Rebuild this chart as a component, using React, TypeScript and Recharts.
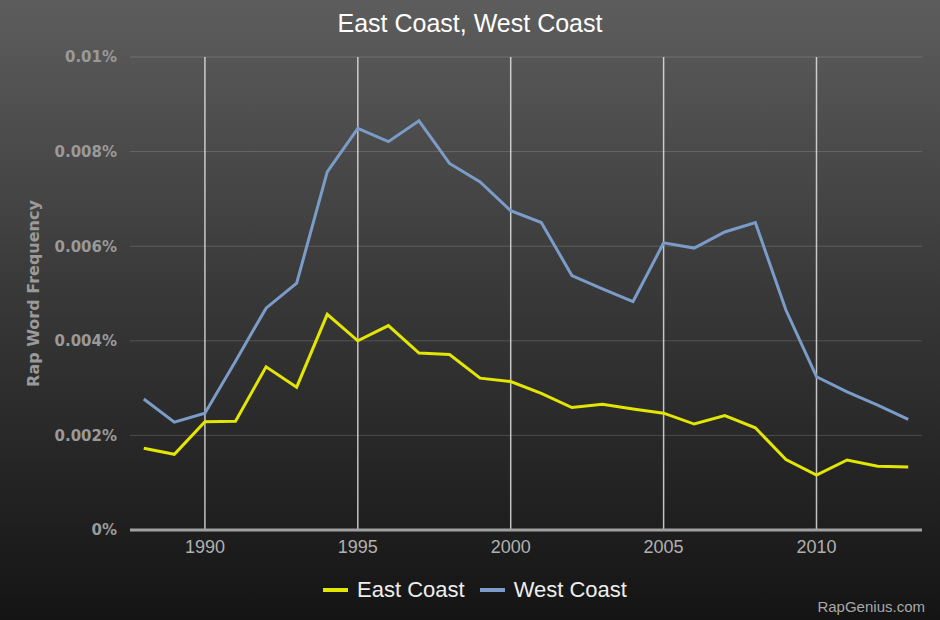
import React from "react";
import { LineChart, Line, XAxis, YAxis, CartesianGrid, Legend, ReferenceLine } from "recharts";

const years = [1988, 1989, 1990, 1991, 1992, 1993, 1994, 1995, 1996, 1997, 1998, 1999, 2000, 2001, 2002, 2003, 2004, 2005, 2006, 2007, 2008, 2009, 2010, 2011, 2012, 2013];
const eastCoast = [0.00173, 0.0016, 0.00229, 0.0023, 0.00345, 0.00302, 0.00456, 0.004, 0.00432, 0.00374, 0.00371, 0.00321, 0.00314, 0.00289, 0.00259, 0.00266, 0.00256, 0.00247, 0.00224, 0.00242, 0.00216, 0.00149, 0.00116, 0.00148, 0.00135, 0.00133];
const westCoast = [0.00277, 0.00228, 0.00247, 0.00357, 0.00469, 0.00522, 0.00757, 0.00849, 0.00821, 0.00865, 0.00775, 0.00736, 0.00675, 0.0065, 0.00538, 0.0051, 0.00483, 0.00607, 0.00596, 0.0063, 0.0065, 0.00465, 0.00324, 0.00292, 0.00264, 0.00234];
const yTicks = [0, 0.002, 0.004, 0.006, 0.008, 0.01];
const xTicks = [1990, 1995, 2000, 2005, 2010];
const seriesNames = ["East Coast", "West Coast"];
const title = "East Coast, West Coast";
const yLabel = "Rap Word Frequency";
const watermark = "RapGenius.com";

const data = years.map((y, i) => ({ year: y, east: eastCoast[i], west: westCoast[i] }));

const EAST_COLOR = "#e3e600";
const WEST_COLOR = "#7b9cc9";

const LegendContent = (props: any) => {
  const payload = props.payload || [];
  return (
    <div
      style={{
        height: 30,
        display: "flex",
        justifyContent: "center",
        alignItems: "center",
        paddingLeft: 28,
        fontFamily: "'Liberation Sans', Arial, sans-serif",
        fontSize: 22,
        color: "#eeeeee",
      }}
    >
      {payload.map((p: any, i: number) => (
        <div key={i} style={{ display: "flex", alignItems: "center", marginRight: i === 0 ? 15 : 0 }}>
          <div style={{ width: 25, height: 4, background: p.color, marginRight: 9 }} />
          <span>{p.value}</span>
        </div>
      ))}
    </div>
  );
};

export default function App() {
  return (
    <div
      style={{
        position: "absolute",
        left: 0,
        top: 0,
        width: 940,
        height: 620,
        background: "linear-gradient(to bottom, #5d5d5d 0%, #3a3a3a 45%, #141414 100%)",
        overflow: "hidden",
      }}
    >
      <div
        style={{
          position: "absolute",
          top: 6,
          left: 0,
          width: 940,
          textAlign: "center",
          color: "#ffffff",
          fontFamily: "'Liberation Sans', Arial, sans-serif",
          fontSize: 25,
          lineHeight: "34px",
        }}
      >
        {title}
      </div>
      <LineChart width={940} height={620} data={data} margin={{ top: 57, right: 18, bottom: 30, left: 0 }}>
        <CartesianGrid vertical={false} stroke="rgba(255,255,255,0.16)" strokeWidth={1} />
        {xTicks.map((t) => (
          <ReferenceLine key={t} x={t} stroke="rgba(235,235,235,0.8)" strokeWidth={1.5} />
        ))}
        <XAxis
          dataKey="year"
          type="number"
          domain={[1987.55, 2013.45]}
          ticks={xTicks}
          interval={0}
          height={30}
          tickLine={false}
          axisLine={{ stroke: "#a0a0a0", strokeWidth: 3 }}
          tick={{ fill: "#b0b0b0", fontSize: 18, fontFamily: "'Liberation Sans', Arial, sans-serif" }}
          tickMargin={4}
        />
        <YAxis
          type="number"
          domain={[0, 0.01]}
          ticks={yTicks}
          interval={0}
          width={130}
          tickLine={false}
          axisLine={false}
          tickMargin={7}
          tickFormatter={(v: number) => `${v}%`}
          tick={{ fill: "#9a9a9a", fontSize: 15, fontWeight: "bold", fontFamily: "'DejaVu Sans', sans-serif" }}
          label={{
            value: yLabel,
            angle: -90,
            position: "insideLeft",
            offset: 33,
            style: {
              textAnchor: "middle",
              fill: "#9a9a9a",
              fontSize: 16,
              fontWeight: "bold",
              fontFamily: "'DejaVu Sans', sans-serif",
            },
          }}
        />
        <Legend verticalAlign="bottom" content={<LegendContent />} wrapperStyle={{ bottom: 15 }} />
        <Line
          type="linear"
          dataKey="east"
          name={seriesNames[0]}
          stroke={EAST_COLOR}
          strokeWidth={3}
          dot={false}
          activeDot={false}
          isAnimationActive={false}
        />
        <Line
          type="linear"
          dataKey="west"
          name={seriesNames[1]}
          stroke={WEST_COLOR}
          strokeWidth={3}
          dot={false}
          activeDot={false}
          isAnimationActive={false}
        />
      </LineChart>
      <div
        style={{
          position: "absolute",
          right: 15,
          top: 598,
          color: "#a8a8a8",
          fontFamily: "'Liberation Sans', Arial, sans-serif",
          fontSize: 15,
          lineHeight: "18px",
        }}
      >
        {watermark}
      </div>
    </div>
  );
}
